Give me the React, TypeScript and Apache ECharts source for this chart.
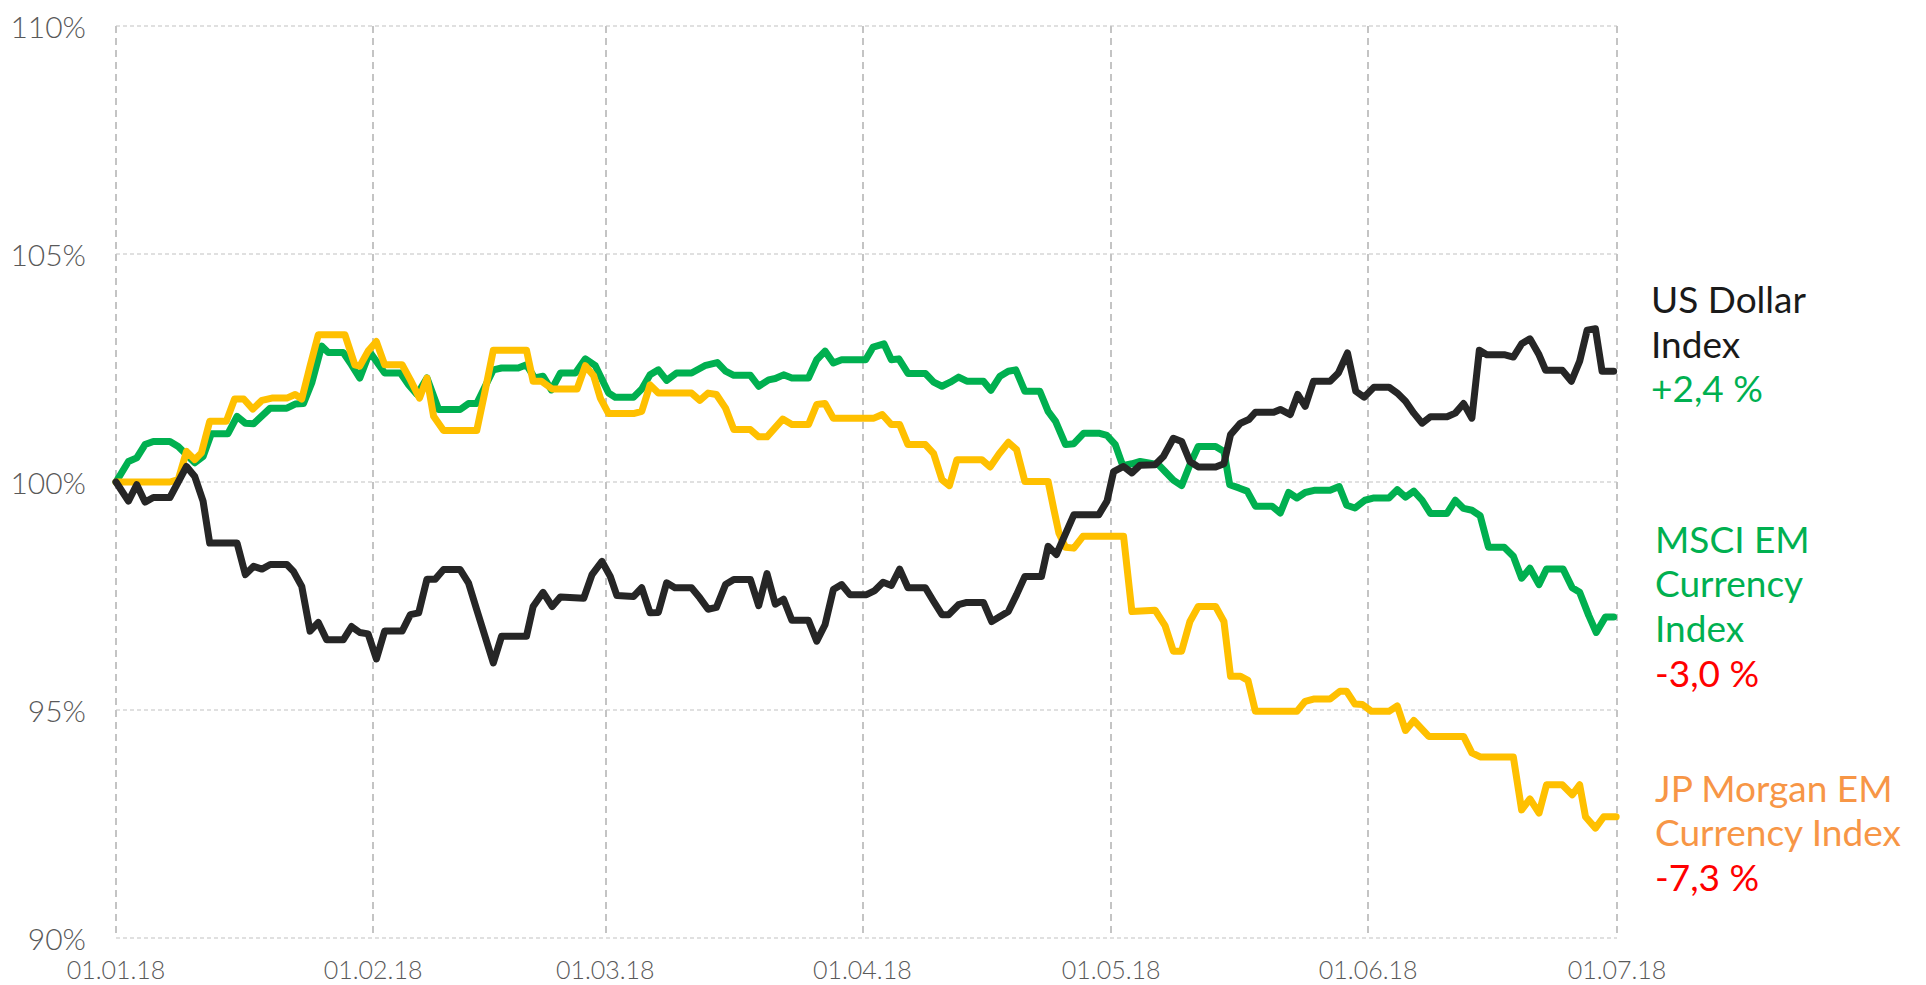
import React, { useEffect, useRef } from "react";
import * as echarts from "echarts";

// Days since 01.01.18 (vertices of each line) and index values in %
const usdDays = [0, 1.5, 2.5, 3.5, 4.5, 6.5, 8.5, 9.5, 10.5, 11.3, 14.6, 15.6, 16.6, 17.6, 18.6, 20.6, 21.4, 22.4, 23.4, 24.4, 25.4, 27.4, 28.4, 29.4, 30.4, 31.4, 32.4, 34.5, 35.5, 36.5, 37.5, 38.5, 39.5, 41.5, 42.5, 43.5, 45.5, 46.5, 49.5, 50.3, 51.5, 52.6, 53.6, 56.4, 57.4, 58.6, 59.6, 60.4, 62.4, 63.4, 64.4, 65.4, 66.4, 67.4, 69.4, 70.4, 71.4, 72.4, 73.5, 74.5, 76.5, 77.5, 78.5, 79.5, 80.5, 81.5, 83.5, 84.5, 85.5, 86.5, 87.5, 88.5, 90.5, 91.5, 92.5, 93.5, 94.5, 95.5, 97.6, 98.6, 99.6, 100.4, 101.6, 102.6, 104.6, 105.6, 107.6, 108.6, 109.6, 111.6, 112.4, 113.4, 115.5, 118.5, 119.5, 120.3, 121.5, 122.5, 123.5, 125.3, 126.3, 127.5, 128.5, 129.5, 130.5, 132.6, 133.6, 134.4, 135.6, 136.6, 137.4, 139.6, 140.4, 141.6, 142.5, 143.4, 144.4, 146.4, 147.4, 148.5, 149.5, 150.5, 151.7, 153.5, 154.5, 155.5, 156.5, 157.5, 158.5, 160.5, 161.5, 162.5, 163.5, 164.4, 165.3, 167.5, 168.5, 169.5, 170.5, 171.6, 172.4, 174.4, 175.5, 176.5, 177.4, 178.4, 179.2, 180.6];
const usdValues = [100.0, 99.58, 99.94, 99.56, 99.66, 99.66, 100.34, 100.12, 99.58, 98.66, 98.66, 97.97, 98.15, 98.09, 98.19, 98.19, 98.04, 97.71, 96.73, 96.92, 96.54, 96.54, 96.83, 96.7, 96.67, 96.12, 96.73, 96.73, 97.09, 97.13, 97.87, 97.87, 98.08, 98.08, 97.79, 97.2, 96.03, 96.62, 96.62, 97.27, 97.58, 97.27, 97.48, 97.45, 97.97, 98.26, 97.93, 97.51, 97.49, 97.68, 97.13, 97.14, 97.79, 97.68, 97.68, 97.46, 97.21, 97.25, 97.75, 97.86, 97.86, 97.29, 97.99, 97.32, 97.43, 96.97, 96.97, 96.51, 96.87, 97.64, 97.75, 97.53, 97.53, 97.62, 97.8, 97.73, 98.09, 97.68, 97.68, 97.38, 97.09, 97.09, 97.31, 97.36, 97.36, 96.94, 97.16, 97.53, 97.93, 97.93, 98.59, 98.41, 99.28, 99.28, 99.58, 100.23, 100.34, 100.2, 100.37, 100.38, 100.56, 100.96, 100.89, 100.45, 100.33, 100.33, 100.4, 101.04, 101.29, 101.37, 101.53, 101.53, 101.59, 101.48, 101.92, 101.66, 102.21, 102.21, 102.39, 102.83, 101.99, 101.86, 102.08, 102.08, 101.95, 101.77, 101.51, 101.29, 101.43, 101.43, 101.51, 101.72, 101.4, 102.89, 102.79, 102.79, 102.74, 103.03, 103.14, 102.79, 102.45, 102.45, 102.21, 102.65, 103.33, 103.36, 102.43, 102.43];

const msciDays = [0, 1.5, 2.5, 3.5, 4.5, 6.5, 7.5, 9.5, 10.5, 11.5, 13.5, 14.6, 15.6, 16.6, 18.6, 20.6, 21.6, 22.6, 23.6, 24.8, 25.6, 27.4, 28.4, 29.4, 30.6, 32.4, 34.3, 35.3, 36.3, 37.5, 38.9, 41.5, 42.5, 43.5, 45.5, 46.5, 48.5, 49.5, 50.5, 51.5, 52.5, 53.6, 55.4, 56.6, 57.8, 59.4, 60.2, 62.4, 63.4, 64.4, 65.4, 66.4, 67.6, 69.4, 71.0, 72.5, 73.5, 74.5, 76.5, 77.5, 78.7, 79.5, 80.5, 81.5, 83.5, 84.5, 85.5, 86.5, 87.5, 90.4, 91.3, 92.6, 93.5, 94.4, 95.5, 97.6, 98.6, 99.6, 100.6, 101.6, 102.6, 104.6, 105.5, 106.6, 107.6, 108.5, 109.6, 111.4, 112.4, 113.3, 114.5, 115.5, 116.7, 118.5, 119.5, 120.5, 121.4, 122.5, 123.5, 125.7, 126.5, 127.5, 128.5, 129.5, 130.5, 132.6, 133.6, 134.3, 135.4, 136.4, 137.4, 139.4, 140.4, 141.4, 142.4, 143.4, 144.6, 146.4, 147.5, 148.4, 149.4, 150.6, 151.7, 153.5, 154.5, 155.5, 156.5, 157.5, 158.5, 160.5, 161.5, 162.5, 163.5, 164.5, 165.5, 167.4, 168.5, 169.5, 170.5, 171.6, 172.5, 174.5, 175.6, 176.5, 177.6, 178.5, 179.6, 180.6];
const msciValues = [100.0, 100.45, 100.53, 100.82, 100.89, 100.89, 100.78, 100.42, 100.56, 101.06, 101.06, 101.44, 101.29, 101.28, 101.62, 101.62, 101.71, 101.72, 102.17, 102.98, 102.84, 102.84, 102.57, 102.28, 102.85, 102.39, 102.39, 102.13, 101.92, 102.28, 101.59, 101.59, 101.72, 101.72, 102.46, 102.5, 102.5, 102.57, 102.28, 102.32, 102.02, 102.39, 102.39, 102.7, 102.55, 101.95, 101.86, 101.86, 102.04, 102.35, 102.46, 102.23, 102.39, 102.39, 102.55, 102.62, 102.43, 102.34, 102.34, 102.1, 102.24, 102.27, 102.35, 102.28, 102.28, 102.68, 102.87, 102.61, 102.68, 102.68, 102.96, 103.03, 102.68, 102.7, 102.38, 102.38, 102.19, 102.1, 102.19, 102.3, 102.21, 102.21, 102.01, 102.32, 102.43, 102.46, 101.99, 101.99, 101.55, 101.33, 100.82, 100.84, 101.07, 101.07, 101.02, 100.82, 100.36, 100.4, 100.45, 100.38, 100.23, 100.04, 99.92, 100.38, 100.78, 100.78, 100.67, 99.94, 99.87, 99.8, 99.47, 99.47, 99.32, 99.77, 99.65, 99.77, 99.82, 99.82, 99.9, 99.49, 99.43, 99.6, 99.65, 99.65, 99.83, 99.67, 99.8, 99.6, 99.31, 99.31, 99.6, 99.42, 99.38, 99.26, 98.57, 98.57, 98.37, 97.89, 98.11, 97.75, 98.09, 98.09, 97.68, 97.58, 97.07, 96.7, 97.04, 97.04];

const jpmDays = [0, 6.5, 7.5, 8.5, 9.5, 10.3, 11.3, 13.3, 14.3, 15.4, 16.5, 17.6, 18.8, 20.6, 21.6, 22.4, 23.4, 24.4, 27.6, 28.8, 29.4, 30.4, 31.4, 32.4, 34.5, 35.5, 36.6, 37.5, 38.3, 39.5, 43.5, 44.5, 45.5, 49.5, 50.3, 51.3, 52.6, 55.6, 56.6, 57.6, 58.4, 59.4, 62.4, 63.4, 64.4, 65.4, 69.4, 70.4, 71.4, 72.4, 73.5, 74.5, 76.5, 77.5, 78.5, 80.4, 81.5, 83.5, 84.5, 85.5, 86.5, 91.4, 92.4, 93.5, 94.5, 95.5, 97.6, 98.6, 99.6, 100.5, 101.4, 104.4, 105.4, 106.5, 107.6, 108.6, 109.6, 112.4, 113.1, 113.7, 114.5, 115.5, 116.6, 121.5, 122.5, 125.3, 126.5, 127.5, 128.5, 129.5, 130.5, 132.6, 133.6, 134.4, 135.6, 136.5, 137.4, 142.4, 143.4, 144.4, 146.4, 147.6, 148.4, 149.4, 150.3, 151.4, 153.5, 154.5, 155.5, 156.5, 158.3, 162.5, 163.5, 164.5, 168.5, 169.5, 170.5, 171.6, 172.5, 174.4, 175.6, 176.5, 177.2, 178.4, 179.4, 180.9];
const jpmValues = [100.0, 100.0, 100.05, 100.67, 100.49, 100.64, 101.33, 101.33, 101.82, 101.82, 101.6, 101.79, 101.84, 101.84, 101.92, 101.82, 102.54, 103.23, 103.23, 102.57, 102.54, 102.87, 103.08, 102.57, 102.57, 102.24, 101.84, 102.28, 101.44, 101.13, 101.13, 101.99, 102.89, 102.89, 102.21, 102.21, 102.04, 102.04, 102.55, 102.33, 101.84, 101.5, 101.5, 101.55, 102.13, 101.95, 101.95, 101.79, 101.95, 101.92, 101.62, 101.15, 101.15, 100.99, 100.99, 101.38, 101.26, 101.26, 101.7, 101.72, 101.4, 101.4, 101.48, 101.26, 101.26, 100.82, 100.82, 100.62, 100.05, 99.92, 100.49, 100.49, 100.33, 100.62, 100.87, 100.71, 100.01, 100.01, 99.39, 98.88, 98.57, 98.55, 98.81, 98.81, 97.16, 97.19, 96.85, 96.29, 96.29, 96.94, 97.27, 97.27, 96.94, 95.74, 95.74, 95.65, 94.97, 94.97, 95.19, 95.24, 95.24, 95.41, 95.41, 95.13, 95.12, 94.97, 94.97, 95.09, 94.55, 94.77, 94.42, 94.42, 94.06, 93.97, 93.97, 92.81, 93.05, 92.74, 93.36, 93.36, 93.14, 93.36, 92.66, 92.41, 92.66, 92.66];

const yTicks = { min: 90, max: 110, step: 5 };
const startDate = [2018, 0, 1];
const endDate = [2018, 6, 1];

const labelUsd = ["US Dollar", "Index"];
const changeUsd = "+2,4 %";
const labelMsci = ["MSCI EM", "Currency", "Index"];
const changeMsci = "-3,0 %";
const labelJpm = ["JP Morgan EM", "Currency Index"];
const changeJpm = "-7,3 %";

const DAY = 86400000;
const BASE = new Date(startDate[0], startDate[1], startDate[2]).getTime();
const END = new Date(endDate[0], endDate[1], endDate[2]).getTime();

const toSeries = (days: number[], vals: number[]) =>
  days.map((d, i) => [BASE + d * DAY, vals[i]]);

const pad = (n: number) => (n < 10 ? "0" + n : "" + n);

export default function App() {
  const ref = useRef<HTMLDivElement>(null);
  useEffect(() => {
    if (!ref.current) return;
    const chart = echarts.init(ref.current, undefined, { renderer: "svg" });
    const FS = 37;
    const LH = 44.6;
    const off = 0.387 * FS;
    const texts: any[] = [];
    const addBlock = (lines: string[], color: string, change: string, changeColor: string, x: number, firstBaseline: number) => {
      lines.forEach((t, i) => {
        texts.push({
          type: "text",
          left: x,
          top: firstBaseline + i * LH - off - FS / 2,
          style: { text: t, fill: color, font: `400 ${FS}px Lato`, textVerticalAlign: "top" },
        });
      });
      texts.push({
        type: "text",
        left: x,
        top: firstBaseline + lines.length * LH - off - FS / 2,
        style: { text: change, fill: changeColor, font: `400 ${FS}px Lato`, textVerticalAlign: "top" },
      });
    };
    addBlock(labelUsd, "#1a1a1a", changeUsd, "#00b050", 1651, 313);
    addBlock(labelMsci, "#00b050", changeMsci, "#ff0000", 1655, 552.7);
    addBlock(labelJpm, "#f79646", changeJpm, "#ff0000", 1655, 801.7);

    chart.setOption({
      animation: false,
      backgroundColor: "#ffffff",
      grid: { left: 116, right: 309, top: 26, bottom: 47, containLabel: false },
      xAxis: {
        type: "time",
        min: BASE,
        max: END,
        splitNumber: 6,
        minInterval: 28 * DAY,
        maxInterval: 31 * DAY,
        axisLine: { show: false },
        axisTick: { show: false },
        axisLabel: {
          formatter: (v: number) => {
            const d = new Date(v);
            return `${pad(d.getDate())}.${pad(d.getMonth() + 1)}.${pad(d.getFullYear() % 100)}`;
          },
          fontFamily: "Lato",
          fontWeight: 300,
          fontSize: 25,
          color: "#595959",
          margin: 18,
          showMinLabel: true,
          showMaxLabel: true,
          hideOverlap: false,
        },
        splitLine: { show: true, lineStyle: { type: [7, 5], color: "#c4c4c4", width: 2 } },
      },
      yAxis: {
        type: "value",
        min: yTicks.min,
        max: yTicks.max,
        interval: yTicks.step,
        axisLine: { show: false },
        axisTick: { show: false },
        axisLabel: {
          formatter: "{value}%",
          fontFamily: "Lato",
          fontWeight: 300,
          fontSize: 30,
          color: "#595959",
          margin: 30,
        },
        splitLine: { show: true, lineStyle: { type: [4, 3], color: "#d6d6d6", width: 1.5 } },
      },
      graphic: texts,
      series: [
        {
          name: "MSCI EM Currency Index",
          type: "line",
          data: toSeries(msciDays, msciValues),
          showSymbol: false,
          lineStyle: { color: "#00b050", width: 7, cap: "round", join: "round" },
          itemStyle: { color: "#00b050" },
        },
        {
          name: "JP Morgan EM Currency Index",
          type: "line",
          data: toSeries(jpmDays, jpmValues),
          showSymbol: false,
          lineStyle: { color: "#ffc000", width: 7, cap: "round", join: "round" },
          itemStyle: { color: "#ffc000" },
        },
        {
          name: "US Dollar Index",
          type: "line",
          data: toSeries(usdDays, usdValues),
          showSymbol: false,
          lineStyle: { color: "#262626", width: 7, cap: "round", join: "round" },
          itemStyle: { color: "#262626" },
        },
      ],
    });
    return () => chart.dispose();
  }, []);
  return (
    <div
      ref={ref}
      style={{ position: "absolute", left: 0, top: 0, width: 1926, height: 985, background: "#fff" }}
    />
  );
}
